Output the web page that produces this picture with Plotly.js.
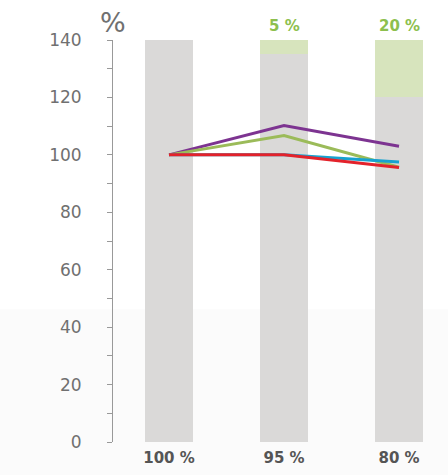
<!DOCTYPE html>
<html><head><meta charset="utf-8">
<script src="https://cdn.plot.ly/plotly-3.0.1.min.js"></script>
<style>html,body{margin:0;padding:0;background:#fff}#chart{width:448px;height:475px}</style>
</head><body><div id="chart"></div>
<script>
const categories = ["100 %", "95 %", "80 %"];
const baseBar = [140, 135, 120];
const reduction = [0, 5, 20];
const reductionLabels = ["", "5 %", "20 %"];
const purple = [100, 110.2, 103];
const green = [100, 106.7, 95.7];
const cyan = [100, 100, 97.5];
const red = [100, 100, 95.6];

const traces = [
  {type:'bar', x:categories, y:baseBar, marker:{color:'#dad9d8'}, width:0.41, hoverinfo:'skip', showlegend:false},
  {type:'bar', x:categories, y:reduction, marker:{color:'#d7e4bd'}, width:0.41, hoverinfo:'skip', showlegend:false},
  {type:'scatter', mode:'lines', x:categories, y:purple, line:{color:'#7d3491', width:3}, showlegend:false},
  {type:'scatter', mode:'lines', x:categories, y:green, line:{color:'#9bbb59', width:3}, showlegend:false},
  {type:'scatter', mode:'lines', x:categories, y:cyan, line:{color:'#17a2d0', width:3}, showlegend:false},
  {type:'scatter', mode:'lines', x:categories, y:red, line:{color:'#e3222b', width:3}, showlegend:false}
];

const annotations = [];
categories.forEach((c,i)=>{
  if (reductionLabels[i]) annotations.push({x:c, y:140, xref:'x', yref:'y', text:'<b>'+reductionLabels[i]+'</b>', showarrow:false, yanchor:'bottom', yshift:3, font:{family:'DejaVu Sans, sans-serif', size:15, color:'#8dbf4e'}});
});
annotations.push({x:0, y:140, xref:'paper', yref:'y', text:'%', showarrow:false, xanchor:'center', yanchor:'bottom', xshift:0, yshift:0, font:{family:'DejaVu Sans, sans-serif', size:27, color:'#707070'}});

const layout = {
  width:448, height:475,
  margin:{l:113, r:0, t:40, b:33},
  paper_bgcolor:'#ffffff', plot_bgcolor:'rgba(0,0,0,0)',
  barmode:'stack',
  xaxis:{type:'category', range:[-0.487, 2.426], showgrid:false, zeroline:false, showline:false, ticks:'',
    tickfont:{family:'DejaVu Sans, sans-serif', size:15, color:'#555555', weight:'bold'}, ticklabelstandoff:5},
  yaxis:{range:[0,140], dtick:20, tick0:0, showgrid:false, zeroline:false, showline:true, linecolor:'#999999', linewidth:1,
    ticks:'outside', ticklen:5, tickcolor:'#999999', tickwidth:1,
    minor:{dtick:10, ticks:'outside', ticklen:5, tickcolor:'#999999'},
    tickfont:{family:'DejaVu Sans, sans-serif', size:17, color:'#707070'}, ticklabelstandoff:22},
  shapes:[{type:'rect', xref:'paper', yref:'paper', x0:-0.34, x1:1, y0:-0.09, y1:0.33, fillcolor:'#fbfbfb', line:{width:0}, layer:'below'}],
  annotations:annotations
};
Plotly.newPlot('chart', traces, layout, {displayModeBar:false, staticPlot:true});
</script></body></html>
